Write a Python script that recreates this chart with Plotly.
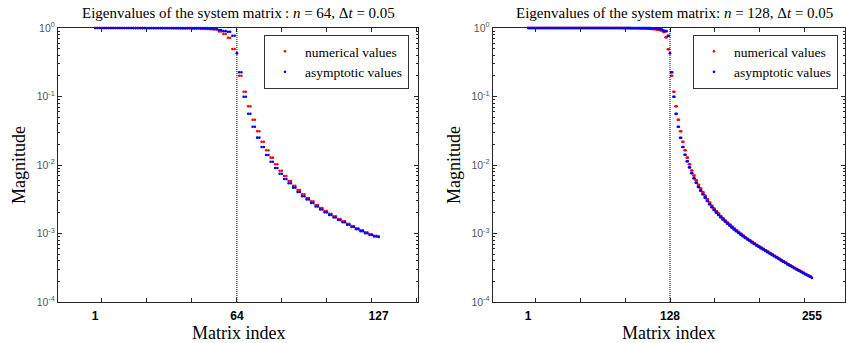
import numpy as np
import plotly.graph_objects as go

# ---------------- data ----------------
# Left panel: n = 64, indices 1..127
n_left = 64
left_index = np.arange(1, 2 * n_left)

# magnitudes of the leading part (index 1, then conjugate pairs (2,3)...(62,63))
left_num_first = 1.0
left_num_head_pairs = [1.0, 1.0, 1.0, 0.999, 0.999, 0.999, 0.998, 0.998, 0.997, 0.996,
                       0.995, 0.994, 0.993, 0.992, 0.991, 0.99, 0.989, 0.988, 0.986, 0.984,
                       0.982, 0.979, 0.976, 0.972, 0.967, 0.96, 0.95, 0.89, 0.817, 0.722, 0.494]
left_asy_first = 1.0
left_asy_head_pairs = [1.0, 1.0, 1.0, 1.0, 1.0, 1.0, 1.0, 1.0, 1.0, 1.0,
                       1.0, 1.0, 1.0, 1.0, 1.0, 1.0, 1.0, 1.0, 1.0, 1.0,
                       0.999, 0.999, 0.998, 0.997, 0.995, 0.985, 0.967, 0.935, 0.9, 0.88, 0.772]
left_middle = 0.427          # index 64 (both series)
# trailing conjugate pairs (65,66)...(125,126), log10 of magnitude, then index 127
left_num_tail_log10 = [-0.696, -0.930, -1.143, -1.339, -1.508, -1.660, -1.785, -1.893, -1.990, -2.083,
                       -2.161, -2.234, -2.302, -2.365, -2.428, -2.482, -2.530, -2.584, -2.628, -2.672,
                       -2.711, -2.749, -2.788, -2.822, -2.857, -2.891, -2.924, -2.953, -2.982, -3.012, -3.032]
left_num_last_log10 = -3.041
left_asy_tail_log10 = [-0.647, -1.003, -1.251, -1.441, -1.601, -1.737, -1.854, -1.952, -2.044, -2.127,
                       -2.204, -2.267, -2.331, -2.394, -2.457, -2.504, -2.555, -2.606, -2.650, -2.691,
                       -2.730, -2.766, -2.803, -2.836, -2.872, -2.905, -2.937, -2.966, -2.996, -3.022, -3.044]
left_asy_last_log10 = -3.051

# Right panel: n = 128, indices 1..255
n_right = 128
right_index = np.arange(1, 2 * n_right)

right_num_first = 1.0
right_num_head_pairs = [1.0, 1.0, 1.0, 1.0, 1.0, 1.0, 1.0, 1.0, 1.0, 1.0,
                        1.0, 1.0, 1.0, 1.0, 1.0, 1.0, 1.0, 1.0, 1.0, 1.0,
                        1.0, 1.0, 1.0, 1.0, 1.0, 1.0, 1.0, 1.0, 1.0, 1.0,
                        0.999, 0.999, 0.999, 0.999, 0.999, 0.999, 0.999, 0.999, 0.999, 0.999,
                        0.998, 0.998, 0.997, 0.997, 0.996, 0.995,
                        0.994, 0.993, 0.991, 0.989, 0.987, 0.984,
                        0.981, 0.977, 0.972, 0.966, 0.958, 0.948,
                        0.935, 0.918, 0.875, 0.73, 0.49]
right_asy_first = 1.0
right_asy_head_pairs = [1.0, 1.0, 1.0, 1.0, 1.0, 1.0, 1.0, 1.0, 1.0, 1.0,
                        1.0, 1.0, 1.0, 1.0, 1.0, 1.0, 1.0, 1.0, 1.0, 1.0,
                        1.0, 1.0, 1.0, 1.0, 1.0, 1.0, 1.0, 1.0, 1.0, 1.0,
                        1.0, 1.0, 1.0, 1.0, 1.0, 1.0, 1.0, 1.0, 1.0, 1.0,
                        1.0, 1.0, 1.0, 1.0, 1.0, 1.0, 1.0, 1.0, 1.0, 1.0,
                        0.999, 0.999, 0.998, 0.997, 0.995, 0.993,
                        0.99, 0.985, 0.975, 0.95, 0.913, 0.9, 0.77]
right_middle = 0.427         # index 128 (both series)
right_num_tail_log10 = [-0.696, -0.93, -1.143, -1.339, -1.508, -1.66, -1.785, -1.893, -1.99, -2.08,
                        -2.155, -2.225, -2.29, -2.345, -2.40, -2.45, -2.50, -2.55, -2.595, -2.635,
                        -2.675, -2.71, -2.745, -2.778, -2.81, -2.84, -2.87, -2.90, -2.927, -2.953,
                        -2.98, -3.005, -3.03, -3.055, -3.078, -3.10, -3.122, -3.144, -3.165, -3.185,
                        -3.205, -3.225, -3.245, -3.265, -3.285, -3.305, -3.325, -3.345, -3.365, -3.385,
                        -3.405, -3.425, -3.445, -3.465, -3.484, -3.502, -3.52, -3.538, -3.556, -3.574,
                        -3.592, -3.61, -3.627]
right_num_last_log10 = -3.645
right_asy_tail_log10 = [-0.647, -1.003, -1.253, -1.441, -1.604, -1.737, -1.85, -1.947, -2.035, -2.12,
                        -2.195, -2.26, -2.322, -2.375, -2.428, -2.477, -2.525, -2.573, -2.617, -2.656,
                        -2.695, -2.729, -2.763, -2.795, -2.826, -2.856, -2.885, -2.914, -2.94, -2.966,
                        -2.992, -3.017, -3.041, -3.066, -3.088, -3.11, -3.132, -3.153, -3.174, -3.194,
                        -3.214, -3.234, -3.253, -3.273, -3.293, -3.313, -3.332, -3.352, -3.372, -3.392,
                        -3.411, -3.431, -3.451, -3.47, -3.489, -3.507, -3.525, -3.543, -3.561, -3.579,
                        -3.597, -3.614, -3.632]
right_asy_last_log10 = -3.65

x_tick_labels_left = [1, 64, 127]
x_tick_labels_right = [1, 128, 255]
y_tick_values = [1e-4, 1e-3, 1e-2, 1e-1, 1e0]
y_tick_text = ["10<sup>-4</sup>", "10<sup>-3</sup>", "10<sup>-2</sup>", "10<sup>-1</sup>", "10<sup>0</sup>"]
delta_t = 0.05


def assemble(first, head_pairs, middle, tail_log10, last_log10):
    head = np.repeat(np.asarray(head_pairs, dtype=float), 2)
    tail = np.repeat(10.0 ** np.asarray(tail_log10, dtype=float), 2)
    return np.concatenate([[first], head, [middle], tail, [10.0 ** last_log10]])


left_num = assemble(left_num_first, left_num_head_pairs, left_middle, left_num_tail_log10, left_num_last_log10)
left_asy = assemble(left_asy_first, left_asy_head_pairs, left_middle, left_asy_tail_log10, left_asy_last_log10)
right_num = assemble(right_num_first, right_num_head_pairs, right_middle, right_num_tail_log10, right_num_last_log10)
right_asy = assemble(right_asy_first, right_asy_head_pairs, right_middle, right_asy_tail_log10, right_asy_last_log10)

# ---------------- figure ----------------
W, H = 846, 343
SERIF = "Liberation Serif, Times New Roman, serif"
SANS = "Liberation Sans, Arial, sans-serif"
RED, BLUE = "#ff0000", "#0000ff"
AX = "#262626"

fig = go.Figure()
mk = dict(size=2.6, symbol="circle")
fig.add_trace(go.Scatter(x=left_index, y=left_num, mode="markers", name="numerical values",
                         marker=dict(color=RED, **mk), xaxis="x", yaxis="y", legend="legend", cliponaxis=False))
fig.add_trace(go.Scatter(x=left_index, y=left_asy, mode="markers", name="asymptotic values",
                         marker=dict(color=BLUE, **mk), xaxis="x", yaxis="y", legend="legend", cliponaxis=False))
fig.add_trace(go.Scatter(x=right_index, y=right_num, mode="markers", name="numerical values",
                         marker=dict(color=RED, **mk), xaxis="x2", yaxis="y2", legend="legend2", cliponaxis=False))
fig.add_trace(go.Scatter(x=right_index, y=right_asy, mode="markers", name="asymptotic values",
                         marker=dict(color=BLUE, **mk), xaxis="x2", yaxis="y2", legend="legend2", cliponaxis=False))

ydom = [1 - 302 / H, 1 - 28 / H]
xdom1 = [58 / W, 418 / W]
xdom2 = [492.7 / W, 845 / W]

minor_y = [m * 10.0 ** e for e in range(-4, 0) for m in range(2, 10)]


def xaxis(domain, rng, labels, minor_vals, anchor):
    return dict(domain=domain, range=rng, anchor=anchor, automargin=False,
                tickmode="array", tickvals=labels, ticktext=[str(v) for v in labels],
                ticks="", ticklabelstandoff=3,
                tickfont=dict(family=SANS, size=12, color="black", weight="bold"),
                minor=dict(tickmode="array", tickvals=minor_vals, ticks="inside", ticklen=4,
                           tickcolor=AX, showgrid=False),
                showline=True, linecolor=AX, linewidth=1, mirror="ticks",
                showgrid=False, zeroline=False)


def yaxis(anchor):
    return dict(domain=ydom, type="log", range=[-4, 0], anchor=anchor, automargin=False,
                tickmode="array", tickvals=y_tick_values, ticktext=y_tick_text,
                ticks="inside", ticklen=4, tickcolor=AX,
                tickfont=dict(family=SANS, size=10.5, color="#555555"),
                minor=dict(tickmode="array", tickvals=minor_y, ticks="inside", ticklen=2,
                           tickcolor=AX, showgrid=False),
                showline=True, linecolor=AX, linewidth=1, mirror="ticks",
                showgrid=False, zeroline=False,
                title=dict(text="Magnitude", font=dict(family=SERIF, size=18, color="black"), standoff=6))


left_minor_x = [4, 24, 44, 64, 84, 104, 124, 144]
right_minor_x = [8, 48, 88, 128, 168, 208, 248, 288]

legend_style = dict(yanchor="top", bordercolor="#333333", borderwidth=1, bgcolor="white",
                    font=dict(family=SERIF, size=13.5, color="black"), tracegroupgap=0)

title_font = dict(family=SERIF, size=15, color="black")
label_font = dict(family=SERIF, size=18, color="black")

fig.update_layout(
    width=W, height=H, margin=dict(l=0, r=0, t=0, b=0, autoexpand=False),
    paper_bgcolor="white", plot_bgcolor="white",
    xaxis=xaxis(xdom1, [-15.5, 144.5], x_tick_labels_left, left_minor_x, "y"),
    yaxis=yaxis("x"),
    xaxis2=xaxis(xdom2, [-30.65, 284.6], x_tick_labels_right, right_minor_x, "y2"),
    yaxis2=yaxis("x2"),
    legend=dict(x=264 / W, y=1 - 35 / H, xanchor="left", **legend_style),
    legend2=dict(x=838 / W, y=1 - 35 / H, xanchor="right", **legend_style),
    shapes=[
        dict(type="line", xref="x", yref="y domain", x0=n_left, x1=n_left, y0=0, y1=1,
             line=dict(color="black", width=1, dash="1px,1px")),
        dict(type="line", xref="x2", yref="y2 domain", x0=n_right, x1=n_right, y0=0, y1=1,
             line=dict(color="black", width=1, dash="1px,1px")),
    ],
    annotations=[
        dict(text=f"Eigenvalues of the system matrix\u2009: <i>n</i> = {n_left}, Δ<i>t</i> = {delta_t}",
             xref="paper", yref="paper", x=(58 + 418) / 2 / W, y=1 - 13 / H, showarrow=False,
             xanchor="center", yanchor="middle", font=title_font),
        dict(text=f"Eigenvalues of the system matrix: <i>n</i> = {n_right}, Δ<i>t</i> = {delta_t}",
             xref="paper", yref="paper", x=674 / W, y=1 - 13 / H, showarrow=False,
             xanchor="center", yanchor="middle", font=title_font),
        dict(text="Matrix index", xref="x domain", yref="paper", x=0.5, y=0, yshift=-2,
             showarrow=False, xanchor="center", yanchor="bottom", font=label_font),
        dict(text="Matrix index", xref="x2 domain", yref="paper", x=0.5, y=0, yshift=-2,
             showarrow=False, xanchor="center", yanchor="bottom", font=label_font),
    ],
)

pin = ("document.body.style.margin='0';document.body.style.padding='0';"
       "var g=document.querySelector('.plotly-graph-div');"
       "g.style.position='fixed';g.style.left='0px';g.style.top='0px';")
fig.write_html("out.html", post_script=pin, config={"displayModeBar": False})
